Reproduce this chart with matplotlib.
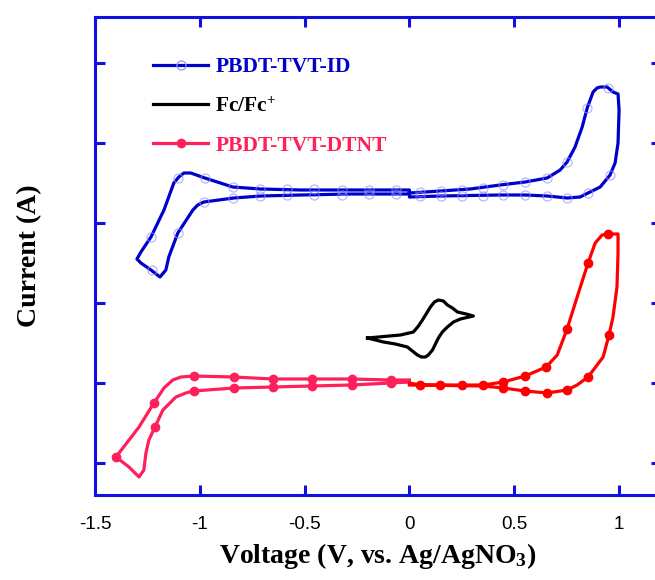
import numpy as np
import matplotlib.pyplot as plt
from matplotlib.lines import Line2D

plt.rcParams['font.family'] = ['Liberation Sans', 'DejaVu Sans']
plt.rcParams['mathtext.fontset'] = 'custom'
plt.rcParams['mathtext.rm'] = 'Liberation Serif:bold'
plt.rcParams['mathtext.it'] = 'Liberation Serif:bold:italic'
plt.rcParams['mathtext.bf'] = 'Liberation Serif:bold'

# PBDT-TVT-ID cyclic voltammogram (V, current in a.u.)
id_v = [0, 0.148, 0.290, 0.433, 0.552, 0.657, 0.719, 0.752, 0.790, 0.824, 0.848, 0.876,
        0.895, 0.910, 0.943, 0.971, 0.995, 1.000, 0.995, 0.981, 0.957, 0.910, 0.852, 0.814,
        0.752, 0.705, 0.657, 0.552, 0.433, 0.148, 0, 0, -0.281, -0.519, -0.710, -0.838,
        -0.981, -1.010, -1.033, -1.105, -1.148, -1.162, -1.190, -1.233, -1.281, -1.300, -1.281,
        -1.233, -1.171, -1.124, -1.100, -1.076, -1.043, -0.976, -0.843, -0.710, -0.519,
        0, 0]
id_i = [67.5, 68, 68.5, 69.5, 70.25, 71.25, 73.25, 75.25, 79, 84, 88.75, 92.75,
        93.75, 94, 94, 92.75, 92.25, 88.25, 80, 75, 72, 69, 67.5, 66.5,
        66.25, 66.5, 66.75, 67, 67, 66.75, 66.5, 67.25, 67.25, 67, 66.75, 66.25,
        65.25, 64.5, 63.25, 57.5, 51.5, 48.25, 46.5, 48.25, 50, 51, 52.75,
        56.5, 63.25, 70, 71.5, 72.5, 72.5, 71.25, 69, 68.5, 68.25,
        68.25, 67.5]
id_mark_v = [0.052, 0.152, 0.252, 0.352, 0.448, 0.552, 0.657, 0.752, 0.848, 0.948,
             0.052, 0.152, 0.252, 0.352, 0.448, 0.552, 0.657, 0.752, 0.852, 0.957,
             -0.062, -0.195, -0.324, -0.457, -0.586, -0.714, -0.843, -0.976,
             -0.062, -0.195, -0.324, -0.457, -0.586, -0.714, -0.843, -0.981,
             -1.105, -1.233, -1.229, -1.105]
id_mark_i = [67.75, 68, 68.25, 68.75, 69.5, 70.25, 71.25, 75.25, 88.75, 93.75,
             66.75, 66.75, 66.75, 66.75, 67, 67, 66.75, 66.25, 67.5, 72,
             68.25, 68.25, 68.25, 68.5, 68.5, 68.5, 69, 71.25,
             67.25, 67.25, 67, 67, 67, 66.75, 66.25, 65.25,
             57.5, 56.5, 48.25, 71.25]

# PBDT-TVT-DTNT, negative half
dt_neg_v = [0, -0.090, -0.276, -0.467, -0.652, -0.838, -1.029, -1.090, -1.129, -1.171,
            -1.219, -1.290, -1.400, -1.338, -1.290, -1.267, -1.257, -1.243, -1.214,
            -1.176, -1.114, -1.067, -1.029, -0.838, -0.652, -0.467, -0.276, -0.090, 0]
dt_neg_i = [20.75, 20.75, 21, 21, 21, 21.5, 21.75, 21.5, 20.75, 18.75,
            15, 9, 1.5, -1, -3.5, -1.75, 2.5, 5.75, 9,
            13.25, 16.5, 17.5, 18, 18.75, 19, 19.25, 19.5, 20, 20.25]
dt_neg_mark_v = [-0.090, -0.276, -0.467, -0.652, -0.838, -1.029,
                 -0.090, -0.276, -0.467, -0.652, -0.838, -1.029,
                 -1.219, -1.400, -1.214]
dt_neg_mark_i = [20.75, 21, 21, 21, 21.5, 21.75,
                 20, 19.5, 19.25, 19, 18.75, 18,
                 15, 1.5, 9]

# PBDT-TVT-DTNT, positive half
dt_pos_v = [0, 0.052, 0.352, 0.448, 0.552, 0.652, 0.705, 0.752, 0.800, 0.852, 0.886,
            0.919, 0.948, 0.995, 0.995, 0.990, 0.971, 0.952, 0.924, 0.852, 0.800,
            0.752, 0.657, 0.552, 0.448, 0.352, 0]
dt_pos_i = [20, 19.5, 19.5, 20.25, 21.75, 24, 27, 33.5, 41.5, 50, 55,
            57, 57.25, 57.25, 52.5, 44, 36.5, 32, 26.5, 21.5, 19.5,
            18.25, 17.5, 18, 18.75, 19.25, 19.5]
dt_pos_mark_v = [0.052, 0.148, 0.252, 0.352, 0.448, 0.552, 0.652, 0.752, 0.852, 0.948,
                 0.952, 0.852, 0.752, 0.657, 0.552, 0.448]
dt_pos_mark_i = [19.5, 19.5, 19.5, 19.5, 20.25, 21.75, 24, 33.5, 50, 57.25,
                 32, 21.5, 18.25, 17.5, 18, 18.75]

# Ferrocene reference
fc_v = [-0.200, -0.043, 0.019, 0.043, 0.062, 0.100, 0.119, 0.138, 0.162, 0.181, 0.205,
        0.229, 0.271, 0.305, 0.243, 0.210, 0.181, 0.157, 0.138, 0.110, 0.090, 0.076,
        0.057, 0.038, 0.014, -0.010, -0.067, -0.124, -0.200]
fc_i = [31.25, 32, 32.75, 34.25, 35.75, 39, 40.25, 40.75, 40.5, 39.5, 38.75,
        37.75, 37.25, 36.75, 36, 35.25, 34, 32.75, 31.25, 28.25, 27, 26.5,
        26.5, 27, 28, 29, 29.75, 30.25, 31.25]

blue = '#0000cc'
spine_blue = '#1010e0'
pink = '#ff1f5a'
red = '#ff0000'
mk_blue = '#9090ff'

fig = plt.figure(figsize=(6.55, 5.8), dpi=100)
ax = fig.add_axes((95/655, 85/580, 566/655, 478/580))

ax.plot(id_v, id_i, color=blue, lw=2.3, solid_joinstyle='round')
ax.plot(id_mark_v, id_mark_i, ls='none', marker='o', ms=6.5, mfc='none',
        mec=mk_blue, mew=0.9, alpha=0.65)
ax.plot(fc_v, fc_i, color='black', lw=2.3, solid_joinstyle='round')
ax.plot(dt_neg_v, dt_neg_i, color=pink, lw=2.3, solid_joinstyle='round')
ax.plot(dt_neg_mark_v, dt_neg_mark_i, ls='none', marker='o', ms=6, color=pink)
ax.plot(dt_pos_v, dt_pos_i, color=red, lw=2.3, solid_joinstyle='round')
ax.plot(dt_pos_mark_v, dt_pos_mark_i, ls='none', marker='o', ms=6, color=red)

ax.set_xlim(-1.5, 1.2)
ax.set_ylim(-8, 111.5)
ax.set_xticks([-1.5, -1, -0.5, 0, 0.5, 1])
ax.set_xticklabels(['-1.5', '-1', '-0.5', '0', '0.5', '1'])
ax.set_yticks([0, 20, 40, 60, 80, 100])
ax.set_yticklabels([])

for s in ax.spines.values():
    s.set_color(spine_blue)
    s.set_linewidth(2.2)
ax.tick_params(direction='in', length=7, width=2.2, color=spine_blue,
               top=True, right=True, labelsize=13.5, pad=15)

ax.set_xlabel(r'Voltage (V, vs. Ag/AgNO$_3$)', family='Liberation Serif',
              weight='bold', fontsize=20, labelpad=6)
ax.set_ylabel('Current (A)', family='Liberation Serif', weight='bold', fontsize=20)
ax.yaxis.set_label_coords(-0.094, 0.5)

handles = [
    Line2D([], [], color=blue, lw=2.3, marker='o', ms=6.5, mfc='none', mec=mk_blue, mew=0.9),
    Line2D([], [], color='black', lw=2.3),
    Line2D([], [], color=pink, lw=2.3, marker='o', ms=6),
]
labels = ['PBDT-TVT-ID', r'Fc/Fc$^{+}$', 'PBDT-TVT-DTNT']
leg = ax.legend(handles, labels, loc='upper left', bbox_to_anchor=(153/655, 1 - 57/580),
                bbox_transform=fig.transFigure, frameon=False, borderpad=0,
                borderaxespad=0, handlelength=2.56, handletextpad=0.33, labelspacing=0.9,
                prop={'family': 'Liberation Serif', 'weight': 'bold', 'size': 15.5})
for t, c in zip(leg.get_texts(), [blue, 'black', pink]):
    t.set_color(c)

fig.savefig('out.png', dpi=100)
